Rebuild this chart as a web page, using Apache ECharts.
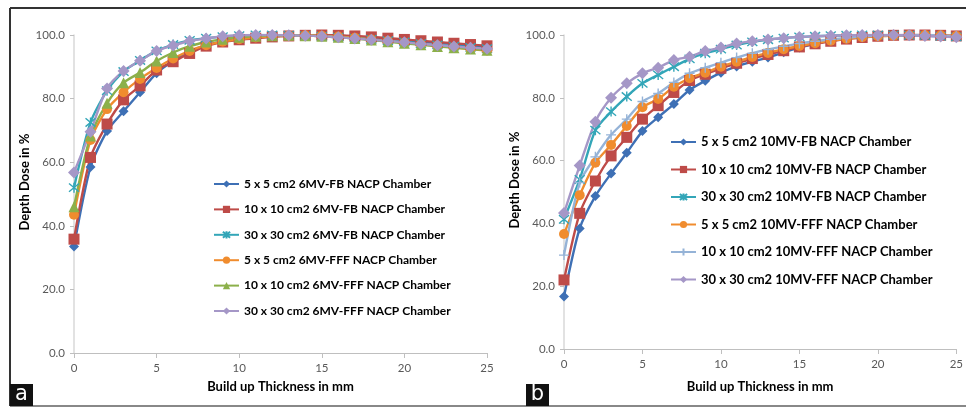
<!DOCTYPE html>
<html>
<head>
<meta charset="utf-8">
<script src="https://cdn.jsdelivr.net/npm/echarts@6/dist/echarts.min.js"></script>
<style>
  html, body { margin: 0; padding: 0; background: #fff; }
  #chart { width: 966px; height: 409px; }
</style>
</head>
<body>
<div id="chart"></div>
<script>
// Build-up thickness (mm), shared by both panels
const thickness = [0, 1, 2, 3, 4, 5, 6, 7, 8, 9, 10, 11, 12, 13, 14, 15, 16, 17, 18, 19, 20, 21, 22, 23, 24, 25];
const yTicks = [0, 20, 40, 60, 80, 100];

// Panel a: 6 MV depth dose (%)
const mv6Names = [
  '5 x 5 cm2 6MV-FB NACP Chamber',
  '10 x 10 cm2 6MV-FB NACP Chamber',
  '30 x 30 cm2 6MV-FB NACP Chamber',
  '5 x 5 cm2 6MV-FFF NACP Chamber',
  '10 x 10 cm2 6MV-FFF NACP Chamber',
  '30 x 30 cm2 6MV-FFF NACP Chamber'
];
const mv6_5FB    = [33.5, 58.5, 69.8, 76.0, 82.0, 88.0, 91.8, 94.8, 96.8, 98.0, 98.8, 99.3, 99.6, 99.8, 99.9, 100.0, 99.8, 99.5, 99.1, 98.7, 98.3, 97.9, 97.4, 97.0, 96.6, 96.2];
const mv6_10FB   = [35.8, 61.5, 72.0, 79.6, 84.0, 89.0, 91.6, 94.2, 96.5, 97.8, 98.5, 99.0, 99.4, 99.7, 99.9, 100.0, 99.9, 99.7, 99.4, 99.0, 98.6, 98.2, 97.8, 97.4, 97.0, 96.6];
const mv6_30FB   = [52.0, 72.5, 82.5, 88.5, 92.0, 95.0, 97.0, 98.3, 99.0, 99.5, 99.8, 100.0, 100.0, 99.9, 99.8, 99.6, 99.3, 99.0, 98.6, 98.2, 97.8, 97.3, 96.9, 96.5, 96.1, 95.7];
const mv6_5FFF   = [43.5, 67.0, 76.7, 82.0, 86.2, 89.6, 92.6, 95.0, 96.8, 97.9, 98.7, 99.2, 99.6, 99.8, 99.9, 99.8, 99.5, 99.1, 98.6, 98.1, 97.6, 97.1, 96.6, 96.1, 95.6, 95.1];
const mv6_10FFF  = [46.0, 68.2, 78.5, 85.0, 88.2, 91.8, 94.5, 96.5, 97.8, 98.7, 99.3, 99.6, 99.8, 99.9, 99.8, 99.6, 99.3, 98.9, 98.4, 97.9, 97.4, 96.9, 96.4, 96.0, 95.6, 95.2];
const mv6_30FFF  = [56.8, 69.6, 83.2, 88.7, 91.9, 95.0, 96.7, 98.1, 98.9, 99.6, 99.9, 100.0, 100.0, 99.9, 99.8, 99.6, 99.3, 98.9, 98.5, 98.1, 97.7, 97.2, 96.8, 96.4, 96.0, 95.7];

// Panel b: 10 MV depth dose (%)
const mv10Names = [
  '5 x 5 cm2 10MV-FB NACP Chamber',
  '10 x 10 cm2 10MV-FB NACP Chamber',
  '30 x 30 cm2 10MV-FB NACP Chamber',
  '5 x 5 cm2 10MV-FFF NACP Chamber',
  '10 x 10 cm2 10MV-FFF NACP Chamber',
  '30 x 30 cm2 10MV-FFF NACP Chamber'
];
const mv10_5FB   = [16.7, 38.4, 48.7, 55.9, 62.5, 69.4, 73.8, 78.0, 82.5, 85.4, 88.0, 90.0, 91.5, 92.8, 94.5, 96.0, 97.2, 98.2, 98.9, 99.4, 99.7, 99.9, 100.0, 100.0, 99.8, 99.6];
const mv10_10FB  = [22.0, 43.2, 53.5, 61.5, 67.4, 73.2, 77.5, 81.7, 85.5, 87.5, 89.4, 91.0, 92.5, 93.8, 95.0, 96.2, 97.2, 98.0, 98.7, 99.2, 99.6, 99.9, 100.0, 100.0, 99.9, 99.7];
const mv10_30FB  = [41.3, 54.0, 69.7, 75.6, 80.4, 84.6, 87.3, 89.9, 92.4, 94.2, 95.5, 96.8, 97.8, 98.5, 99.0, 99.4, 99.6, 99.8, 99.9, 100.0, 100.0, 100.0, 99.9, 99.8, 99.6, 99.4];
const mv10_5FFF  = [36.6, 49.0, 59.3, 65.0, 71.0, 77.0, 79.6, 83.5, 86.2, 88.0, 89.9, 91.5, 93.0, 94.3, 95.5, 96.5, 97.4, 98.2, 98.8, 99.3, 99.6, 99.8, 100.0, 100.0, 99.9, 99.7];
const mv10_10FFF = [29.9, 53.0, 61.2, 68.2, 73.2, 78.8, 81.4, 84.9, 87.8, 89.6, 91.2, 92.8, 94.2, 95.4, 96.4, 97.3, 98.0, 98.6, 99.1, 99.5, 99.8, 99.9, 100.0, 100.0, 99.8, 99.6];
const mv10_30FFF = [43.3, 58.4, 72.4, 80.0, 84.6, 87.8, 89.6, 92.0, 93.1, 94.9, 96.0, 97.3, 98.0, 98.6, 99.0, 99.4, 99.6, 99.8, 99.9, 100.0, 100.0, 100.0, 99.9, 99.7, 99.5, 99.3];

const FONT = 'Lato, "Open Sans", sans-serif';
const ASTERISK = 'path://M0,0L10,10M10,0L0,10M5,-1L5,11';
const PLUS = 'path://M0,5L10,5M5,0L5,10';

// marker styles per series slot
const styles6 = [
  { color: '#3E70B5', symbol: 'diamond', size: 10 },
  { color: '#BE4B48', symbol: 'rect', size: 11 },
  { color: '#33A6B8', symbol: ASTERISK, size: 10, stroke: true },
  { color: '#F08C2E', symbol: 'circle', size: 10 },
  { color: '#8CB04A', symbol: 'triangle', size: 11 },
  { color: '#A597C7', symbol: 'diamond', size: 12 }
];
const styles10 = [
  { color: '#3E70B5', symbol: 'diamond', size: 10 },
  { color: '#BE4B48', symbol: 'rect', size: 11 },
  { color: '#33A6B8', symbol: ASTERISK, size: 10, stroke: true },
  { color: '#F08C2E', symbol: 'circle', size: 10 },
  { color: '#95B3D7', symbol: PLUS, size: 10, stroke: true },
  { color: '#A597C7', symbol: 'diamond', size: 12 }
];

function makeSeries(name, values, st, axisIndex) {
  const itemStyle = st.stroke
    ? { color: 'rgba(0,0,0,0)', borderColor: st.color, borderWidth: 1.4 }
    : { color: st.color, borderWidth: 0 };
  return {
    type: 'line',
    name: name,
    xAxisIndex: axisIndex,
    yAxisIndex: axisIndex,
    data: thickness.map((t, i) => [t, values[i]]),
    smooth: 0.25,
    symbol: st.symbol,
    symbolSize: st.size,
    showSymbol: true,
    lineStyle: { color: st.color, width: 2.4 },
    itemStyle: itemStyle,
    emphasis: { disabled: true },
    animation: false,
    z: 3
  };
}

const data6 = [mv6_5FB, mv6_10FB, mv6_30FB, mv6_5FFF, mv6_10FFF, mv6_30FFF];
const data10 = [mv10_5FB, mv10_10FB, mv10_30FB, mv10_5FFF, mv10_10FFF, mv10_30FFF];

const series = [];
mv6Names.forEach((n, i) => series.push(makeSeries(n, data6[i], styles6[i], 0)));
mv10Names.forEach((n, i) => series.push(makeSeries(n, data10[i], styles10[i], 1)));

function xAxis(gridIndex, nameGap) {
  return {
    type: 'value', gridIndex: gridIndex, min: 0, max: 25, interval: 5,
    name: 'Build up Thickness in mm', nameLocation: 'middle', nameGap: nameGap,
    nameTextStyle: { fontFamily: FONT, fontWeight: 'bold', fontSize: 13, color: '#000' },
    axisLine: { lineStyle: { color: '#BFBFBF', width: 1 } },
    axisTick: { show: true, length: 5, lineStyle: { color: '#BFBFBF' } },
    axisLabel: { fontFamily: FONT, fontSize: 11.5, color: '#595959', margin: 9 },
    splitLine: { show: false }
  };
}
function yAxis(gridIndex, nameGap) {
  return {
    type: 'value', gridIndex: gridIndex, min: yTicks[0], max: yTicks[yTicks.length - 1], interval: 20,
    name: 'Depth Dose in %', nameLocation: 'middle', nameGap: nameGap,
    nameTextStyle: { fontFamily: FONT, fontWeight: 'bold', fontSize: 13, color: '#000', padding: [0, 0, 0, 24] },
    axisLine: { show: true, lineStyle: { color: '#D9D9D9', width: 1.5 } },
    axisTick: { show: true, length: 4, lineStyle: { color: '#BFBFBF' } },
    axisLabel: { fontFamily: FONT, fontSize: 11.5, color: '#595959', margin: 9, formatter: v => v.toFixed(1) },
    splitLine: { show: false }
  };
}

function legend(names, left, top, gap, fontSize) {
  return {
    data: names, orient: 'vertical', left: left, top: top, padding: 0,
    itemWidth: 25, itemHeight: 9, itemGap: gap,
    textStyle: { fontFamily: FONT, fontWeight: 'bold', fontSize: fontSize, color: '#000', lineHeight: 16 },
    selectedMode: false
  };
}

function panelLabel(letter, x) {
  return {
    type: 'group', left: x, top: 384,
    children: [
      { type: 'rect', shape: { x: 0, y: 0, width: 23, height: 22 }, style: { fill: '#111' } },
      { type: 'text', x: 11.5, y: 11, style: { text: letter, fill: '#fff', font: '21px "DejaVu Sans", sans-serif', align: 'center', verticalAlign: 'middle' } }
    ]
  };
}

const chart = echarts.init(document.getElementById('chart'), null, { renderer: 'canvas' });
chart.setOption({
  animation: false,
  backgroundColor: '#fff',
  grid: [
    { left: 74, right: 479, top: 35, bottom: 56 },
    { left: 564, right: 6, top: 35, bottom: 60 }
  ],
  xAxis: [xAxis(0, 27), xAxis(1, 31)],
  yAxis: [yAxis(0, 39), yAxis(1, 40)],
  legend: [
    legend(mv6Names, 213, 176, 9.4, 12),
    legend(mv10Names, 670, 134, 11.5, 13)
  ],
  graphic: [
    { type: 'line', shape: { x1: 10, y1: 8, x2: 966, y2: 8 }, style: { stroke: '#333', lineWidth: 2 } },
    { type: 'line', shape: { x1: 10, y1: 8, x2: 10, y2: 406 }, style: { stroke: '#333', lineWidth: 2 } },
    { type: 'line', shape: { x1: 10, y1: 406, x2: 966, y2: 406 }, style: { stroke: '#888', lineWidth: 2 } },
    panelLabel('a', 10),
    panelLabel('b', 526)
  ],
  series: series
});
</script>
</body>
</html>
